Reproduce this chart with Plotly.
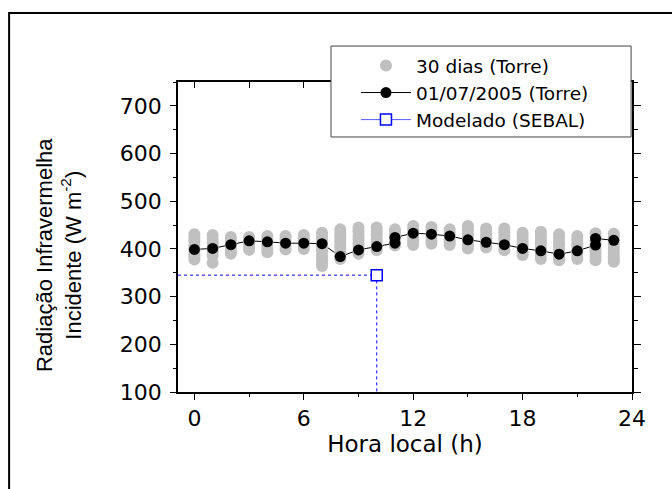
import plotly.graph_objects as go

# Hourly incoming longwave radiation (W m-2) at the tower
hours = list(range(24))

# 30 daily readings summarised per hour (estimated spread of each hourly column)
gray_by_hour = [
    [431, 423, 417, 409, 401, 396, 389, 384, 378],
    [429, 421, 413, 407, 400, 394, 386, 371],
    [425, 418, 410, 404, 396, 390],
    [425, 417, 411, 404, 398],
    [427, 419, 413, 406, 399, 393],
    [427, 421, 413, 405, 399],
    [429, 421, 415, 407, 400],
    [434, 426, 419, 410, 402, 395, 386, 379, 371, 364],
    [441, 433, 426, 417, 409, 402, 393, 386, 379],
    [445, 437, 428, 421, 412, 405, 397, 390],
    [445, 436, 429, 420, 413, 404, 397],
    [441, 434, 426, 420, 413, 407],
    [448, 441, 433, 427, 420, 414, 408],
    [446, 439, 431, 425, 417, 411],
    [441, 433, 427, 420, 414, 408],
    [448, 440, 431, 424, 416, 408, 401],
    [443, 436, 428, 422, 415, 409, 403],
    [443, 435, 426, 419, 411, 403, 397],
    [434, 426, 417, 410, 402, 394, 387],
    [436, 428, 419, 412, 403, 396, 388, 379],
    [431, 423, 414, 407, 399, 391, 383, 376],
    [427, 420, 412, 406, 398, 392, 385, 379],
    [433, 425, 416, 409, 400, 393, 384, 376],
    [432, 424, 415, 408, 400, 392, 384, 378, 373],
]

# 01/07/2005 at the tower
day_hours = [0, 1, 2, 3, 4, 5, 6, 7, 8, 9, 10, 11, 11, 12, 13, 14, 15, 16,
             17, 18, 19, 20, 21, 22, 22, 23]
day_vals = [399, 401, 409, 417, 415, 412, 412, 411, 384, 398, 405, 412, 424,
            433, 431, 427, 419, 414, 409, 401, 396, 389, 396, 408, 422, 418]

# SEBAL estimate at the satellite overpass
sebal_hour = [10]
sebal_val = [345]

X_RANGE = [-0.9, 24]
Y_RANGE = [100, 750]
X_TICKS = [0, 6, 12, 18, 24]
Y_TICKS = [100, 200, 300, 400, 500, 600, 700]

FONT = "DejaVu Sans"
TITLE_FONT = "Liberation Sans"
BLUE = "#0000ff"
GRAY = "#c0c0c0"

gx, gy = [], []
for h, vals in zip(hours, gray_by_hour):
    gx += [h] * len(vals)
    gy += vals

fig = go.Figure()

# daily line sits underneath the gray columns
fig.add_trace(go.Scatter(
    x=day_hours, y=day_vals, mode="lines+markers",
    name="01/07/2005 (Torre)", legendrank=2,
    line=dict(color="black", width=1),
    marker=dict(color="black", size=11),
))
fig.add_trace(go.Scatter(
    x=gx, y=gy, mode="markers", name="30 dias (Torre)", legendrank=1,
    marker=dict(color=GRAY, size=12),
))
fig.add_trace(go.Scatter(
    x=day_hours, y=day_vals, mode="markers", showlegend=False,
    marker=dict(color="black", size=11),
))
# drop lines from the SEBAL point to both axes
fig.add_trace(go.Scatter(
    x=[X_RANGE[0], sebal_hour[0], sebal_hour[0]],
    y=[sebal_val[0], sebal_val[0], Y_RANGE[0]],
    mode="lines", showlegend=False, hoverinfo="skip",
    line=dict(color=BLUE, width=1, dash="dot"),
))
fig.add_trace(go.Scatter(
    x=sebal_hour, y=sebal_val, mode="lines+markers",
    name="Modelado (SEBAL)", legendrank=3,
    line=dict(color="#5a5aff", width=1),
    marker=dict(symbol="square", size=11, color="white",
                line=dict(color=BLUE, width=1.5)),
))
# carrier for the mirrored top/right axes
fig.add_trace(go.Scatter(
    x=[day_hours[0]], y=[day_vals[0]], xaxis="x2", yaxis="y2",
    mode="markers", marker=dict(opacity=0), showlegend=False,
    hoverinfo="skip",
))

axis_common = dict(showline=True, linecolor="black", linewidth=1.5,
                   showgrid=False, zeroline=False, tickcolor="black",
                   tickwidth=1.3)

fig.update_layout(
    width=672, height=489,
    margin=dict(l=178, r=40, t=82, b=97),
    paper_bgcolor="white", plot_bgcolor="white",
    font=dict(family=FONT, color="black", size=22),
    xaxis=dict(
        **axis_common, range=X_RANGE, tickmode="array", tickvals=X_TICKS,
        ticks="outside", ticklen=6,
        minor=dict(dtick=3, tick0=0, ticks="outside", ticklen=3,
                   tickcolor="black", tickwidth=1.3),
        tickfont=dict(size=22),
        title=dict(text="Hora local (h)", font=dict(size=23), standoff=3),
    ),
    xaxis2=dict(
        **axis_common, overlaying="x", matches="x", side="top",
        tickmode="array", tickvals=list(range(0, 25, 3)),
        ticks="inside", ticklen=6, showticklabels=False,
    ),
    yaxis=dict(
        **axis_common, range=Y_RANGE, tickmode="array", tickvals=Y_TICKS,
        ticks="outside", ticklen=6,
        minor=dict(dtick=50, tick0=0, ticks="outside", ticklen=3,
                   tickcolor="black", tickwidth=1.3),
        tickfont=dict(size=22), ticklabelstandoff=4,
    ),
    yaxis2=dict(
        **axis_common, overlaying="y", matches="y", side="right",
        tickmode="array", tickvals=Y_TICKS, ticks="outside", ticklen=7,
        minor=dict(dtick=50, tick0=0, ticks="outside", ticklen=4,
                   tickcolor="black", tickwidth=1.3),
        showticklabels=False,
    ),
    legend=dict(
        x=0.392, y=1.113, xanchor="left", yanchor="top",
        bgcolor="rgba(0,0,0,0)", borderwidth=0,
        font=dict(family=FONT, size=18.5), tracegroupgap=0,
        itemwidth=50,
    ),
    showlegend=True,
    annotations=[
        # y-axis title
        dict(text="Radiação Infravermelha<br>Incidente (W m<sup>-2</sup>)",
             xref="paper", yref="paper", x=-0.262, y=0.442,
             xanchor="center", yanchor="middle", textangle=-90,
             showarrow=False, font=dict(family=TITLE_FONT, size=22)),
    ],
    shapes=[
        # legend frame
        dict(type="rect", xref="paper", yref="paper",
             x0=0.337, x1=0.998, y0=0.8226, y1=1.116,
             line=dict(color="#444", width=1), fillcolor="white",
             layer="above"),
        # outer border
        dict(type="rect", xref="paper", yref="paper",
             x0=-0.372, x1=1.11, y0=-0.35, y1=1.2226,
             line=dict(color="black", width=2), fillcolor="rgba(0,0,0,0)",
             layer="above"),
    ],
)

fig.write_html("out.html")
